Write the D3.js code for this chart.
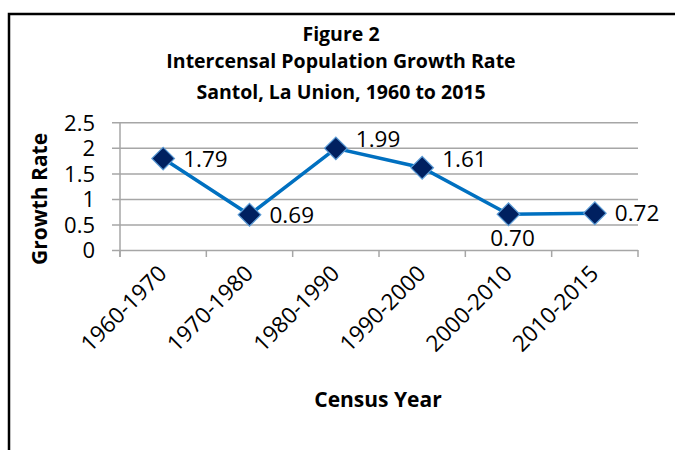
<!DOCTYPE html>
<html>
<head>
<meta charset="utf-8">
<script src="https://cdn.jsdelivr.net/npm/d3@7"></script>
<style>
    body { margin: 0; background: #fff; }
    text { font-family: "Open Sans", Lato, sans-serif; fill: #000; }
</style>
</head>
<body>
<div class="container"></div>
<script>
const categories = ["1960-1970", "1970-1980", "1980-1990", "1990-2000", "2000-2010", "2010-2015"],
    growthRate = [1.79, 0.69, 1.99, 1.61, 0.70, 0.72],
    rateLabels = ["1.79", "0.69", "1.99", "1.61", "0.70", "0.72"],
    labelPlacement = ["right", "right", "upper-right", "upper-right", "below", "right"],
    yTicks = [0, 0.5, 1, 1.5, 2, 2.5],
    titleLines = ["Figure 2", "Intercensal Population Growth Rate", "Santol, La Union, 1960 to 2015"];

const width = 675,
    height = 450,
    plot = {left: 120, right: 638, top: 122.3, bottom: 250};

const svg = d3.select('.container')
    .append('svg')
    .attr('width', width)
    .attr('height', height);

// chart frame (runs off the right and bottom edge in the original)
svg.append('rect')
    .attr('x', 9)
    .attr('y', 14)
    .attr('width', 700)
    .attr('height', 500)
    .attr('fill', 'none')
    .attr('stroke', '#000')
    .attr('stroke-width', 2.5);

const x = d3.scaleBand()
    .domain(categories)
    .range([plot.left, plot.right]);

const y = d3.scaleLinear()
    .domain([0, 2.5])
    .range([plot.bottom, plot.top]);

// title
svg.append('g')
    .selectAll('text')
    .data(titleLines)
    .enter()
    .append('text')
    .attr('x', 341)
    .attr('y', (d, i) => [41, 68, 99][i])
    .attr('text-anchor', 'middle')
    .attr('font-weight', 'bold')
    .attr('font-size', 19.5)
    .text(d => d);

// y axis with gridlines
const yAxis = svg.append('g')
    .attr('transform', `translate(${plot.left},0)`)
    .call(d3.axisLeft(y)
        .tickValues(yTicks)
        .tickSize(-(plot.right - plot.left))
        .tickFormat(d3.format('')));

yAxis.select('.domain').remove();
yAxis.selectAll('.tick line')
    .attr('x1', -8)
    .attr('stroke', '#a6a6a6')
    .attr('stroke-width', 1.5);
yAxis.selectAll('.tick text')
    .attr('x', -25)
    .attr('dy', '0.36em')
    .attr('font-size', 22)
    .attr('fill', '#000');

// vertical axis line
svg.append('line')
    .attr('x1', plot.left)
    .attr('x2', plot.left)
    .attr('y1', plot.top)
    .attr('y2', plot.bottom + 7)
    .attr('stroke', '#a6a6a6')
    .attr('stroke-width', 1.5);

// x axis
const xAxis = svg.append('g')
    .attr('transform', `translate(0,${plot.bottom})`)
    .call(d3.axisBottom(x).tickSize(0));

xAxis.select('.domain').remove();
xAxis.selectAll('.tick line').remove();

// category boundary ticks
svg.append('g')
    .selectAll('line')
    .data(categories.concat(['end']))
    .enter()
    .append('line')
    .attr('x1', (d, i) => i < categories.length ? x(d) : plot.right)
    .attr('x2', (d, i) => i < categories.length ? x(d) : plot.right)
    .attr('y1', plot.bottom)
    .attr('y2', plot.bottom + 7)
    .attr('stroke', '#a6a6a6')
    .attr('stroke-width', 1.5);

xAxis.selectAll('.tick text')
    .attr('font-size', 22.5)
    .attr('fill', '#000')
    .attr('text-anchor', 'end')
    .attr('y', 0)
    .attr('dy', 0)
    .attr('transform', 'translate(5,25) rotate(-45)');

// axis titles
svg.append('text')
    .attr('transform', 'translate(47,199) rotate(-90)')
    .attr('text-anchor', 'middle')
    .attr('font-weight', 'bold')
    .attr('font-size', 21)
    .text('Growth Rate');

svg.append('text')
    .attr('x', 378)
    .attr('y', 407)
    .attr('text-anchor', 'middle')
    .attr('font-weight', 'bold')
    .attr('font-size', 21)
    .text('Census Year');

// series line
const cx = d => x(d) + x.bandwidth() / 2;

svg.append('path')
    .datum(categories)
    .attr('fill', 'none')
    .attr('stroke', '#0070c0')
    .attr('stroke-width', 3.5)
    .attr('d', d3.line()
        .x(d => cx(d))
        .y((d, i) => y(growthRate[i])));

// diamond markers
svg.append('g')
    .selectAll('path')
    .data(categories)
    .enter()
    .append('path')
    .attr('d', d3.symbol(d3.symbolSquare, 256)())
    .attr('transform', (d, i) => `translate(${cx(d)},${y(growthRate[i])}) rotate(45)`)
    .attr('fill', '#002060')
    .attr('stroke', '#5b9bd5')
    .attr('stroke-width', 1.2);

// data labels
svg.append('g')
    .selectAll('text')
    .data(categories)
    .enter()
    .append('text')
    .attr('font-size', 22.5)
    .attr('x', (d, i) => labelPlacement[i] === 'below' ? cx(d) + 4 : cx(d) + 20)
    .attr('y', (d, i) => {
        const py = y(growthRate[i]);
        if (labelPlacement[i] === 'below') return py + 32;
        if (labelPlacement[i] === 'upper-right') return py - 1;
        return py + 8;
    })
    .attr('text-anchor', (d, i) => labelPlacement[i] === 'below' ? 'middle' : 'start')
    .text((d, i) => rateLabels[i]);
</script>
</body>
</html>
